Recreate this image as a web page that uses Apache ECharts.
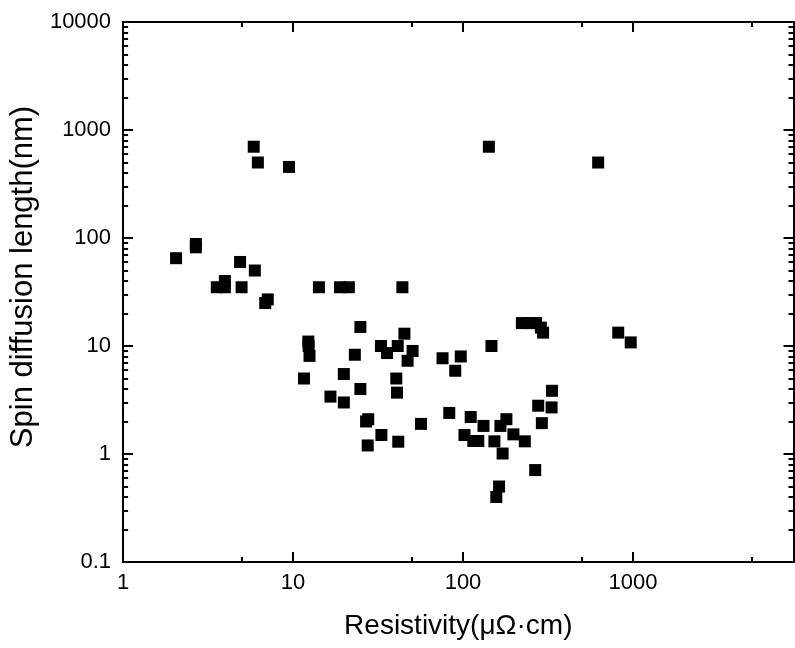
<!DOCTYPE html>
<html><head><meta charset="utf-8">
<script src="https://cdn.jsdelivr.net/npm/echarts@6/dist/echarts.min.js"></script>
<style>html,body{margin:0;padding:0;background:#fff}#c{width:795px;height:648px}</style>
</head><body><div id="c"></div>
<script>
// Data
const resistivity = [2.05, 2.68, 2.68, 3.56, 3.97, 3.97, 4.88, 4.98, 5.96, 6.86, 7.10, 5.87, 6.21, 9.47, 142, 624,
  14.2, 18.9, 21.3, 44, 24.9, 45.2, 12.3, 12.35, 12.5, 23.1, 32.9, 35.7, 41.3, 50.5, 47.2, 11.6, 19.9, 24.9, 40.5, 40.9,
  16.6, 19.9, 26.9, 27.7, 33.1, 27.5, 41.6, 56.6, 75.8, 97, 90, 147, 222, 246, 269, 287, 296, 334, 277, 332, 291,
  83, 111, 102, 115, 123, 132, 153, 171, 166, 180, 198, 231, 266, 163, 157, 819, 970];
const spinLength = [65, 88, 82, 35, 35, 40, 60, 35, 50, 25, 27, 700, 500, 455, 700, 500,
  35, 35, 35, 35, 15, 13, 11, 10, 8.1, 8.3, 10, 8.6, 10, 9, 7.3, 5, 5.5, 4, 5, 3.7,
  3.4, 3, 2, 2.1, 1.5, 1.2, 1.3, 1.9, 7.7, 8, 5.9, 10, 16.3, 16.3, 16.3, 14.8, 13.3, 3.85, 2.8, 2.7, 1.93,
  2.4, 2.2, 1.5, 1.32, 1.32, 1.82, 1.31, 1.01, 1.82, 2.1, 1.52, 1.31, 0.71, 0.5, 0.4, 13.3, 10.8];

const xRange = [1, 8800];
const yRange = [0.1, 10000];
const xTickValues = [1, 10, 100, 1000];
const xTickLabels = ['1', '10', '100', '1000'];
const xMinorTicks = [5, 50, 500, 5000];
const yTickValues = [0.1, 1, 10, 100, 1000, 10000];
const yTickLabels = ['0.1', '1', '10', '100', '1000', '10000'];
const yMinorTicks = [0.2,0.3,0.4,0.5,0.6,0.7,0.8,0.9, 2,3,4,5,6,7,8,9, 20,30,40,50,60,70,80,90,
  200,300,400,500,600,700,800,900, 2000,3000,4000,5000,6000,7000,8000,9000];

const xTitle = 'Resistivity(μΩ·cm)';
const yTitle = 'Spin diffusion length(nm)';

const L = Math.log10;
const FONT = "'Liberation Sans', Arial, sans-serif";
const lineStyle = {color: '#000', width: 2};

function labelFor(values, labels) {
  const logs = values.map(L);
  return function (v) {
    const i = logs.findIndex(t => Math.abs(t - v) < 1e-6);
    return i >= 0 ? labels[i] : '';
  };
}

function makeAxis(kind, position, ticks, len, labels) {
  const range = kind === 'x' ? xRange : yRange;
  const ax = {
    type: 'value', position: position,
    min: L(range[0]), max: L(range[1]),
    splitLine: {show: false},
    axisLine: {show: true, onZero: false, lineStyle: lineStyle},
    axisTick: {show: true, inside: true, length: len, lineStyle: lineStyle, customValues: ticks.map(L)},
    axisLabel: {show: false}
  };
  if (labels) {
    ax.axisLabel = {
      show: true, customValues: labels.values.map(L),
      formatter: labelFor(labels.values, labels.text),
      color: '#000', fontFamily: FONT, fontSize: 22, margin: kind === 'x' ? 10 : 12
    };
  }
  return ax;
}

const xAxes = [
  makeAxis('x', 'bottom', xTickValues, 10, {values: xTickValues, text: xTickLabels}),
  makeAxis('x', 'bottom', xMinorTicks, 5),
  makeAxis('x', 'top', xTickValues, 10),
  makeAxis('x', 'top', xMinorTicks, 5)
];
Object.assign(xAxes[0], {
  name: xTitle, nameLocation: 'middle', nameGap: 50,
  nameTextStyle: {color: '#000', fontFamily: FONT, fontSize: 28}
});
const yAxes = [
  makeAxis('y', 'left', yTickValues, 10, {values: yTickValues, text: yTickLabels}),
  makeAxis('y', 'left', yMinorTicks, 5),
  makeAxis('y', 'right', yTickValues, 10),
  makeAxis('y', 'right', yMinorTicks, 5)
];
Object.assign(yAxes[0], {
  name: yTitle, nameLocation: 'middle', nameGap: 84,
  nameTextStyle: {color: '#000', fontFamily: FONT, fontSize: 31, padding: [0, 0, 0, 30]}
});

const chart = echarts.init(document.getElementById('c'), null, {renderer: 'canvas'});
chart.setOption({
  animation: false,
  backgroundColor: '#fff',
  grid: {left: 123, top: 22, right: 1.5, bottom: 86, containLabel: false},
  xAxis: xAxes,
  yAxis: yAxes,
  series: [{
    type: 'scatter', xAxisIndex: 0, yAxisIndex: 0,
    symbol: 'rect', symbolSize: 12,
    itemStyle: {color: '#000', opacity: 1},
    emphasis: {disabled: true},
    data: resistivity.map((x, i) => [L(x), L(spinLength[i])])
  }]
});
</script></body></html>
